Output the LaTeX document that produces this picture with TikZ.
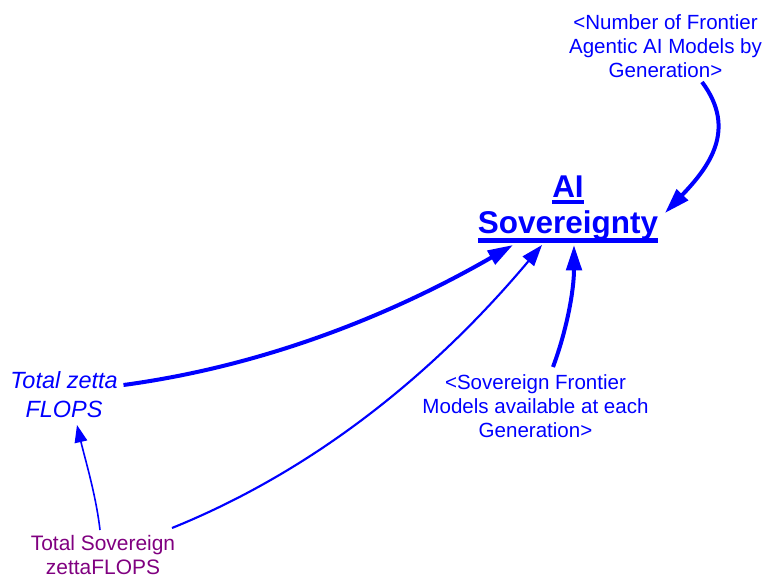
\documentclass[tikz,border=0pt]{standalone}
\usepackage{fontspec}
\setmainfont{Liberation Sans}
\usetikzlibrary{arrows.meta,calc}
\definecolor{vblue}{RGB}{0,0,255}
\definecolor{vpurple}{RGB}{128,0,128}
\newcommand\myul[2]{\leavevmode\setbox0\hbox{#2}\rlap{\rule[#1]{\wd0}{3.2pt}}\box0}
\tikzset{
  lbl/.style={inner sep=0pt, outer sep=0pt, align=center, anchor=north, text=vblue,
    font=\fontsize{15.4pt}{18pt}\selectfont},
  mainvar/.style={inner sep=0pt, outer sep=0pt, align=center, anchor=north, text=vblue,
    font=\fontsize{23.6pt}{27.2pt}\selectfont\bfseries},
  auxvar/.style={inner sep=0pt, outer sep=0pt, align=center, anchor=north, text=vblue,
    font=\fontsize{17.6pt}{21.75pt}\selectfont\itshape},
  srcvar/.style={inner sep=0pt, outer sep=0pt, align=center, anchor=north, text=vpurple,
    font=\fontsize{15.7pt}{18pt}\selectfont},
  thicklink/.style={draw=vblue, line width=3pt, -{Triangle[length=19pt,width=11.5pt]}},
  thinlink/.style={draw=vblue, line width=1.6pt, -{Triangle[length=16pt,width=11pt]}},
  finelink/.style={draw=vblue, line width=1.2pt, -{Triangle[length=13pt,width=9.5pt]}},
}
\begin{document}
\begin{tikzpicture}[x=0.75pt,y=-0.75pt]
\useasboundingbox (0,0) rectangle (765,578);
\node[lbl] (num) at (665.5,14.5) {<Number of Frontier\\Agentic AI Models by\\Generation>};
\node[mainvar] (ai) at (568,176) {\myul{-4.7pt}{AI}\\\myul{-6.6pt}{Sovereignty}};
\node[auxvar] (tzf) at (64,371.5) {Total zetta\\FLOPS};
\node[lbl] (sfm) at (535.5,374.5) {<Sovereign Frontier\\Models available at each\\Generation>};
\node[srcvar] (tsz) at (103,535) {Total Sovereign\\zettaFLOPS};

\draw[thicklink] ($(num.north)+(36.5,67.5)$) .. controls +(36,48) and +(43,-45) .. ($(ai.north)+(97,37)$);
\draw[thicklink] ($(tzf.north)+(59.5,13.5)$) .. controls +(148.7,-20.1) and +(-112.6,65) .. ($(ai.north)+(-55,69)$);
\draw[thinlink] ($(tsz.north)+(69,-7)$) .. controls +(148.3,-60) and +(-102.9,122.6) .. ($(ai.north)+(-26,69)$);
\draw[thicklink] ($(sfm.north)+(17.5,-7.5)$) .. controls +(14,-37.6) and +(0,45) .. ($(ai.north)+(6,69)$);
\draw[finelink] ($(tsz.north)+(-3,-5)$) .. controls +(-4,-35) and +(8,34) .. ($(tzf.north)+(13,53.5)$);
\end{tikzpicture}
\end{document}
